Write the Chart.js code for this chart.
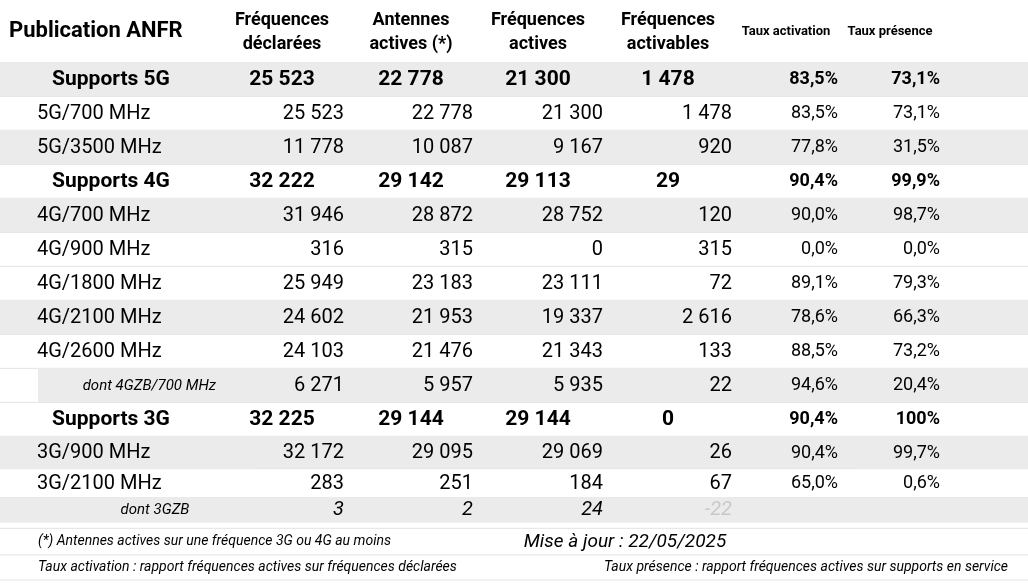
<!DOCTYPE html>
<html><head><meta charset="utf-8">
<script src="https://cdn.jsdelivr.net/npm/chart.js@4"></script>
<style>html,body{margin:0;padding:0;background:#fff}#w{width:1028px;height:583px}</style>
</head><body><div id="w"><canvas id="c"></canvas></div>
<script>
const rowLabels=["Supports 5G","5G/700 MHz","5G/3500 MHz","Supports 4G","4G/700 MHz","4G/900 MHz","4G/1800 MHz","4G/2100 MHz","4G/2600 MHz","dont 4GZB/700 MHz","Supports 3G","3G/900 MHz","3G/2100 MHz","dont 3GZB"];
const rowKind=["bold","n","n","bold","n","n","n","n","n","sub","bold","n","n","sub3"];
const rowGray=[1,0,1,0,1,0,0,1,0,1,0,1,0,1];
const rowHeights=[1,1,1,1,1,1,1,1,1,1,1,0.95,0.85,0.72];
const declarees=["25 523","25 523","11 778","32 222","31 946","316","25 949","24 602","24 103","6 271","32 225","32 172","283","3"];
const actives=["22 778","22 778","10 087","29 142","28 872","315","23 183","21 953","21 476","5 957","29 144","29 095","251","2"];
const freqActives=["21 300","21 300","9 167","29 113","28 752","0","23 111","19 337","21 343","5 935","29 144","29 069","184","24"];
const activables=["1 478","1 478","920","29","120","315","72","2 616","133","22","0","26","67","-22"];
const tauxActivation=["83,5%","83,5%","77,8%","90,4%","90,0%","0,0%","89,1%","78,6%","88,5%","94,6%","90,4%","90,4%","65,0%",""];
const tauxPresence=["73,1%","73,1%","31,5%","99,9%","98,7%","0,0%","79,3%","66,3%","73,2%","20,4%","100%","99,7%","0,6%",""];
const headers=[["Fréquences","déclarées"],["Antennes","actives (*)"],["Fréquences","actives"],["Fréquences","activables"]];
const title="Publication ANFR";
const tauxHeaders=["Taux activation","Taux présence"];
const footL1="(*) Antennes actives sur une fréquence 3G ou 4G au moins";
const footL2="Taux activation : rapport fréquences actives sur fréquences déclarées";
const footR1="Mise à jour : 22/05/2025";
const footR2="Taux présence : rapport fréquences actives sur supports en service";

const tops=[];let acc=0;rowHeights.forEach(h=>{tops.push(acc);acc+=h;});
const F="Roboto, 'DejaVu Sans', sans-serif";
const tablePlugin={id:'tbl',afterDraw(ch){
 const c=ch.ctx,xs=ch.scales.x,ys=ch.scales.y;
 const X=v=>xs.getPixelForValue(v),Y=v=>ys.getPixelForValue(v);
 c.save();
 c.fillStyle="#000";c.textBaseline="middle";
 c.font="bold 22px "+F;c.textAlign="left";c.fillText(title,X(9),Y(-0.9));
 const hc=[282,411,538,668];
 c.font="bold 18px "+F;c.textAlign="center";
 headers.forEach((h,i)=>{c.fillText(h[0],X(hc[i]),Y(-1.22));c.fillText(h[1],X(hc[i]),Y(-0.52));});
 c.font="bold 13px "+F;c.fillText(tauxHeaders[0],X(786),Y(-0.9));c.fillText(tauxHeaders[1],X(890),Y(-0.9));
 const rc=[344,473,603,732,838,940];
 rowLabels.forEach((lab,i)=>{
  const t=Y(tops[i]),b=Y(tops[i]+rowHeights[i]),m=(t+b)/2+1,k=rowKind[i];
  if(rowGray[i]){c.fillStyle="#ebebeb";const x0=k==="sub"?X(38):X(0);c.fillRect(x0,t,X(1028)-x0,b-t);}
  c.strokeStyle="#e4e4e4";c.lineWidth=1;c.beginPath();c.moveTo(X(0),b+0.5);c.lineTo(X(1028),b+0.5);c.stroke();
  c.fillStyle="#000";
  const vals=[declarees[i],actives[i],freqActives[i],activables[i]];
  if(k==="bold"){
   c.font="bold 21px "+F;c.textAlign="center";c.fillText(lab,X(111),m);
   vals.forEach((v,j)=>c.fillText(v,X(hc[j]),m));
   c.font="bold 18px "+F;c.textAlign="right";c.fillText(tauxActivation[i],X(rc[4]),m);c.fillText(tauxPresence[i],X(rc[5]),m);
  }else{
   if(k==="sub"){c.font="italic 15px "+F;c.textAlign="right";c.fillText(lab,X(216),m);}
   else if(k==="sub3"){c.font="italic 15px "+F;c.textAlign="center";c.fillText(lab,X(155),m);}
   else{c.font="20px "+F;c.textAlign="left";c.fillText(lab,X(37),m);}
   c.font=(k==="sub3"?"italic ":"")+"20px "+F;c.textAlign="right";
   vals.forEach((v,j)=>{c.fillStyle=(k==="sub3"&&j===3)?"#c8c8c8":"#000";c.fillText(v,X(rc[j]),m);});
   c.fillStyle="#000";c.font="18px "+F;c.fillText(tauxActivation[i],X(rc[4]),m);c.fillText(tauxPresence[i],X(rc[5]),m);
  }
 });
 const f1=acc+0.6,f2=acc+1.36;
 c.strokeStyle="#e4e4e4";
 [acc+0.2,acc+0.98,acc+1.72].forEach(v=>{c.beginPath();c.moveTo(X(0),Y(v));c.lineTo(X(1028),Y(v));c.stroke();});
 c.fillStyle="#000";c.font="italic 14px "+F;c.textAlign="left";
 c.fillText(footL1,X(38),Y(f1));c.fillText(footL2,X(38),Y(f2));
 c.textAlign="right";c.fillText(footR2,X(1008),Y(f2));
 c.font="italic 19px "+F;c.textAlign="center";c.fillText(footR1,X(625),Y(f1));
 c.restore();
}};
new Chart(document.getElementById('c'),{
 type:'scatter',
 data:{datasets:[{data:rowLabels.map((l,i)=>({x:0,y:tops[i]})),pointRadius:0}]},
 options:{responsive:true,maintainAspectRatio:false,animation:false,
  layout:{padding:0},
  plugins:{legend:{display:false},tooltip:{enabled:false}},
  scales:{x:{type:'linear',min:0,max:1028,display:false},
          y:{type:'linear',reverse:true,min:-1.82,max:-1.82+583/34,display:false}}},
 plugins:[tablePlugin]});
</script></body></html>
